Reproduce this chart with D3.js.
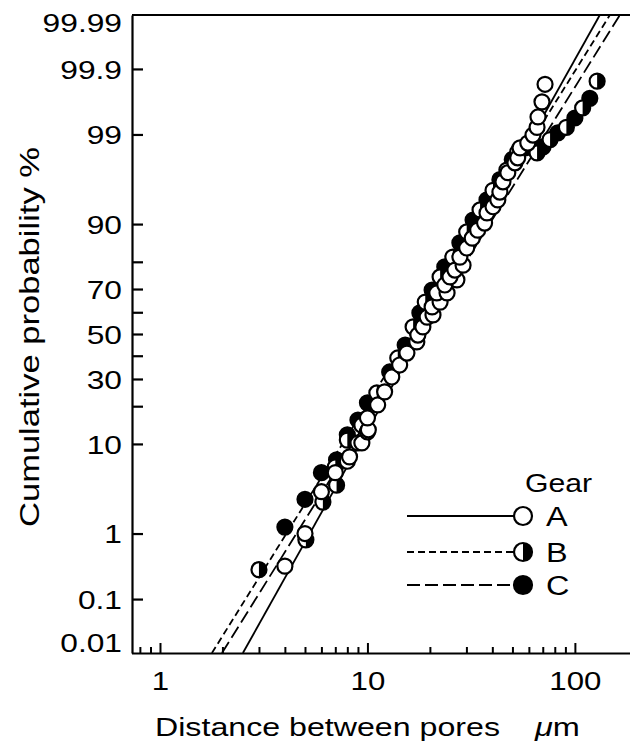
<!DOCTYPE html>
<html>
<head>
<meta charset="utf-8">
<script src="https://cdn.jsdelivr.net/npm/d3@7"></script>
<style>
  html, body { margin: 0; padding: 0; background: #fff; }
  svg { display: block; font-family: "Liberation Sans", Arial, Helvetica, sans-serif; }
</style>
</head>
<body>
<svg id="chart" width="630" height="743"></svg>
<script>
// values: distance between pores (um) and cumulative probability (%)
const gears = ['A', 'B', 'C'];

const gearA_x = [4.0, 5.0, 6.0, 7.0, 8.0, 8.2, 9.0, 9.4, 10.0, 10.1, 10.0, 11.2, 12.1, 13.1, 14.3,
  15.5, 17.3, 17.5, 18.5, 19.4, 20.7, 20.5, 22.4, 21.6, 24.2, 23.6, 27.0, 25.0, 26.4, 28.9,
  27.9, 30.1, 32.0, 34.0, 36.7, 37.7, 40.3, 42.5, 43.5, 45.0, 47.5, 51.4, 53.0, 54.4, 59.3,
  62.8, 65.7, 66.4, 69.4, 71.8];
const gearA_p = [0.34, 1.0, 3.3, 5.3, 6.9, 7.6, 10.2, 10.2, 12.7, 13.2, 16.4, 20.4, 25.0, 30.8, 35.9,
  41.2, 46.3, 49.5, 53.3, 57.8, 58.8, 62.4, 64.5, 68.4, 68.4, 71.6, 73.6, 74.7, 77.2, 78.9,
  81.5, 84.2, 86.8, 88.7, 90.2, 92.1, 93.1, 94.1, 95.1, 96.2, 97.0, 97.7, 98.0, 98.5, 98.7,
  98.98, 99.2, 99.43, 99.66, 99.82];

const gearB_x = [3.0, 5.05, 6.1, 7.0, 7.1, 8.0, 9.4, 11.1, 14.0, 16.6, 19.0, 22.4, 25.8, 30.1, 34.9,
  40.3, 47.0, 53.0, 65.7, 75.9, 91.0, 109, 128];
const gearB_p = [0.30, 0.82, 2.5, 6.05, 3.9, 10.8, 14.4, 24.6, 39.0, 53.3, 64.5, 74.7, 81.5, 88.3, 92.6,
  95.3, 97.2, 98.3, 98.26, 98.83, 99.2, 99.58, 99.84];

const gearC_x = [4.0, 5.0, 6.0, 7.1, 8.0, 9.0, 10.0, 12.8, 15.2, 17.9, 20.5, 23.6, 27.9, 32.3, 37.7,
  43.5, 49.9, 57.5, 70.2, 82.7, 100, 118];
const gearC_p = [1.22, 2.7, 5.3, 7.1, 12.0, 15.8, 21.1, 32.9, 44.9, 59.7, 69.6, 78.3, 85.6, 90.8, 94.1,
  96.4, 97.9, 98.5, 98.54, 99.05, 99.41, 99.70];

// fitted lines: distance where each line meets 0.01 % and 99.99 %
const fitLow_x = [2.51, 1.78, 1.99];
const fitHigh_x = [131.9, 147.5, 164.8];
const fitP = [0.01, 99.99];

const yTickValues = [0.01, 0.1, 1, 10, 20, 30, 40, 50, 60, 70, 80, 90, 99, 99.9, 99.99];
const yTickLabels = [0.01, 0.1, 1, 10, 30, 50, 70, 90, 99, 99.9, 99.99];
const xTickValues = [0.8, 0.9, 1, 2, 3, 4, 5, 6, 7, 8, 9, 10, 20, 30, 40, 50, 60, 70, 80, 90, 100];
const xTickLabels = [1, 10, 100];

// inverse of the normal cdf (Acklam's approximation)
function probit(p) {
  const a = [-3.969683028665376e+01, 2.209460984245205e+02, -2.759285104469687e+02, 1.383577518672690e+02, -3.066479806614716e+01, 2.506628277459239e+00];
  const b = [-5.447609879822406e+01, 1.615858368580409e+02, -1.556989798598866e+02, 6.680131188771972e+01, -1.328068155288572e+01];
  const c = [-7.784894002430293e-03, -3.223964580411365e-01, -2.400758277161838e+00, -2.549732539343734e+00, 4.374664141464968e+00, 2.938163982698783e+00];
  const d = [7.784695709041462e-03, 3.224671290700398e-01, 2.445134137142996e+00, 3.754408661907416e+00];
  const pl = 0.02425;
  let q, r;
  if (p < pl) {
    q = Math.sqrt(-2 * Math.log(p));
    return (((((c[0]*q+c[1])*q+c[2])*q+c[3])*q+c[4])*q+c[5]) / ((((d[0]*q+d[1])*q+d[2])*q+d[3])*q+1);
  }
  if (p > 1 - pl) {
    q = Math.sqrt(-2 * Math.log(1 - p));
    return -(((((c[0]*q+c[1])*q+c[2])*q+c[3])*q+c[4])*q+c[5]) / ((((d[0]*q+d[1])*q+d[2])*q+d[3])*q+1);
  }
  q = p - 0.5; r = q * q;
  return (((((a[0]*r+a[1])*r+a[2])*r+a[3])*r+a[4])*r+a[5])*q / (((((b[0]*r+b[1])*r+b[2])*r+b[3])*r+b[4])*r+1);
}

const plotLeft = 132, plotTop = 15, plotBottom = 653, plotRight = 630;
const x = d3.scaleLog().domain([0.733, 206]).range([plotLeft, 640]);
const z = d3.scaleLinear().domain([probit(0.0001), probit(0.9999)]).range([plotBottom, plotTop]);
const y = p => z(probit(p / 100));

const svg = d3.select('#chart');
const fontSize = 26;

// stretch text horizontally, the scanned lettering is wider than Arial
function widen(sel, k) {
  sel.each(function() {
    const w = this.getComputedTextLength();
    if (w > 0) d3.select(this).attr('textLength', w * k).attr('lengthAdjust', 'spacingAndGlyphs');
  });
}

// frame: top line
svg.append('line')
  .attr('x1', plotLeft).attr('x2', plotRight)
  .attr('y1', plotTop).attr('y2', plotTop)
  .attr('stroke', '#000').attr('stroke-width', 1.8);

// y axis (probability), ticks point into the plot
const yAxis = svg.append('g')
  .attr('transform', `translate(${plotLeft},0)`)
  .call(d3.axisLeft(z)
    .tickValues(yTickValues.map(p => probit(p / 100)))
    .tickFormat((d, i) => yTickLabels.includes(yTickValues[i]) ? String(yTickValues[i]) : '')
    .tickSizeInner(-11).tickSizeOuter(0).tickPadding(10));
yAxis.select('.domain').attr('stroke', '#000').attr('stroke-width', 2.2);
yAxis.selectAll('.tick line')
  .attr('stroke', '#000').attr('stroke-width', 2.2)
  .attr('x1', 0).attr('x2', 11);
yAxis.selectAll('.tick')
  .filter((d, i) => yTickValues[i] === 0.01 || yTickValues[i] === 99.99)
  .select('line').remove();
yAxis.selectAll('.tick text')
  .attr('font-size', fontSize).attr('fill', '#000').attr('font-family', null)
  .attr('x', -10)
  .attr('dy', (d, i) => yTickValues[i] === 99.99 ? '0.62em' : yTickValues[i] === 0.01 ? '-0.05em' : '0.35em')
  .call(widen, 1.22);

// x axis (distance, log), ticks point up
const xAxis = svg.append('g')
  .attr('transform', `translate(0,${plotBottom})`)
  .call(d3.axisBottom(x)
    .tickValues(xTickValues)
    .tickFormat(d => xTickLabels.includes(d) ? String(d) : '')
    .tickSizeInner(-5).tickSizeOuter(0).tickPadding(19));
xAxis.select('.domain').attr('d', `M${plotLeft},0.5H${plotRight}`)
  .attr('stroke', '#000').attr('stroke-width', 2.2);
xAxis.selectAll('.tick line')
  .attr('stroke', '#000').attr('stroke-width', 2)
  .attr('y1', 0)
  .attr('y2', d => xTickLabels.includes(d) ? -10 : -6);
xAxis.selectAll('.tick text')
  .attr('font-size', fontSize).attr('fill', '#000').attr('font-family', null)
  .call(widen, 1.2);

// axis titles
svg.append('text')
  .attr('x', 155).attr('y', 736)
  .attr('font-size', fontSize)
  .attr('textLength', 345).attr('lengthAdjust', 'spacingAndGlyphs')
  .text('Distance between pores');
const unit = svg.append('text')
  .attr('x', 535).attr('y', 736)
  .attr('font-size', fontSize);
unit.append('tspan').attr('font-style', 'italic').text('μ');
unit.append('tspan').text('m');
unit.call(widen, 1.25);

svg.append('text')
  .attr('transform', 'translate(39,337) rotate(-90)')
  .attr('text-anchor', 'middle')
  .attr('font-size', 28)
  .attr('textLength', 380).attr('lengthAdjust', 'spacingAndGlyphs')
  .text('Cumulative  probability  %');

// fitted lines
const dashes = { A: null, B: '7,4', C: '13,5' };
const line = d3.line().x(d => x(d[0])).y(d => y(d[1]));
svg.append('g').selectAll('path')
  .data(gears.map((g, i) => ({ gear: g, pts: [[fitLow_x[i], fitP[0]], [fitHigh_x[i], fitP[1]]] })))
  .join('path')
  .attr('d', d => line(d.pts))
  .attr('fill', 'none')
  .attr('stroke', '#000')
  .attr('stroke-width', 1.8)
  .attr('stroke-dasharray', d => dashes[d.gear]);

// markers
function drawMarker(g, gear, cx, cy, r) {
  g.append('circle')
    .attr('cx', cx).attr('cy', cy).attr('r', r)
    .attr('fill', gear === 'C' ? '#000' : '#fff')
    .attr('stroke', '#000').attr('stroke-width', 2.2);
  if (gear === 'B') {
    g.append('path')
      .attr('d', `M${cx},${cy - r}A${r},${r} 0 0 1 ${cx},${cy + r}Z`)
      .attr('fill', '#000');
  }
}

const seriesX = { A: gearA_x, B: gearB_x, C: gearC_x };
const seriesP = { A: gearA_p, B: gearB_p, C: gearC_p };
const pts = svg.append('g');
['C', 'B', 'A'].forEach(g => {
  d3.zip(seriesX[g], seriesP[g]).forEach(([dx, dp]) => {
    drawMarker(pts, g, x(dx), y(dp), 7.5);
  });
});

// legend
const legend = svg.append('g');
legend.append('text')
  .attr('x', 525).attr('y', 492)
  .attr('font-size', fontSize)
  .text('Gear')
  .call(widen, 1.16);
const rowY = [516, 552, 585];
gears.forEach((g, i) => {
  legend.append('line')
    .attr('x1', 407).attr('x2', 514)
    .attr('y1', rowY[i]).attr('y2', rowY[i])
    .attr('stroke', '#000').attr('stroke-width', 1.8)
    .attr('stroke-dasharray', dashes[g]);
  drawMarker(legend, g, 523, rowY[i], 9);
  legend.append('text')
    .attr('x', 546).attr('y', rowY[i] + 10)
    .attr('font-size', 27)
    .text(g)
    .call(widen, 1.2);
});
</script>
</body>
</html>
